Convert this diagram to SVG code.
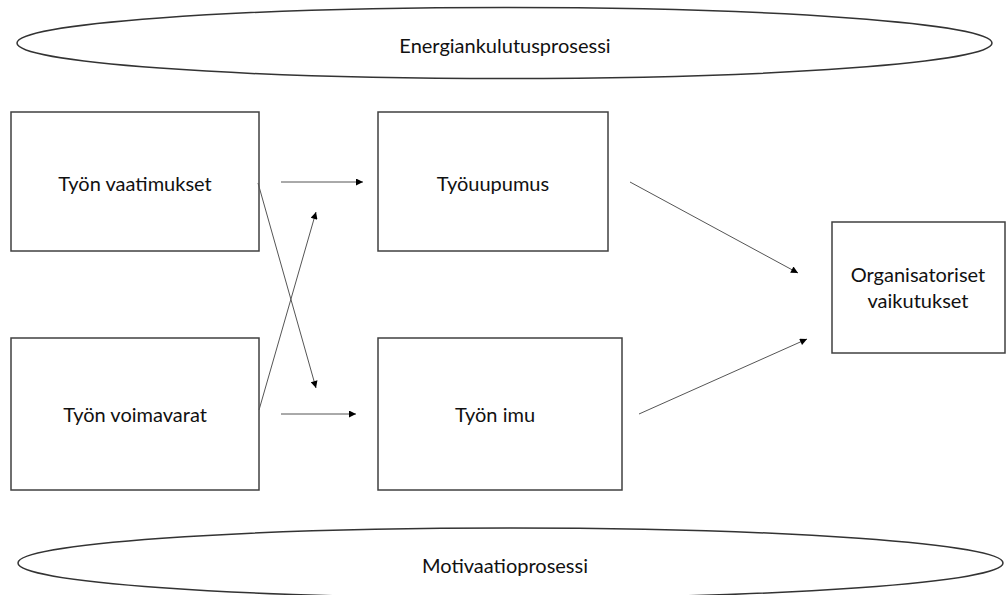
<svg xmlns="http://www.w3.org/2000/svg" width="1008" height="595" viewBox="0 0 1008 595">
<style>
.box{fill:#fff;stroke:#404040;stroke-width:1.5}
.ell{fill:#fff;stroke:#333;stroke-width:1.5}
.lbl{font-family:Lato,"Liberation Sans",sans-serif;font-size:20px;fill:#111;text-anchor:middle;dominant-baseline:central}
.con{stroke:#555;stroke-width:1;fill:none;marker-end:url(#ah)}
</style>
<defs>
<marker id="ah" viewBox="0 0 10 10" refX="10" refY="5" markerWidth="9" markerHeight="7" markerUnits="userSpaceOnUse" orient="auto">
<path d="M0,0 L10,5 L0,10 z" fill="#000"/>
</marker>
</defs>
<rect width="1008" height="595" fill="#fff"/>
<g id="energia">
<ellipse class="ell" cx="504.5" cy="43" rx="487.5" ry="35.5"/>
<text class="lbl" x="505" y="45">Energiankulutusprosessi</text>
</g>
<g id="motivaatio">
<ellipse class="ell" cx="510.5" cy="563" rx="492.5" ry="35"/>
<text class="lbl" x="505" y="565">Motivaatioprosessi</text>
</g>
<g id="vaatimukset">
<rect class="box" x="11" y="112" width="248" height="139"/>
<text class="lbl" x="135" y="183">Työn vaatimukset</text>
</g>
<g id="voimavarat">
<rect class="box" x="11" y="338" width="248" height="152"/>
<text class="lbl" x="135" y="414">Työn voimavarat</text>
</g>
<g id="tyouupumus">
<rect class="box" x="378" y="112" width="230" height="139"/>
<text class="lbl" x="493" y="183">Työuupumus</text>
</g>
<g id="imu">
<rect class="box" x="378" y="338" width="244" height="152"/>
<text class="lbl" x="495" y="414">Työn imu</text>
</g>
<g id="organisatoriset">
<rect class="box" x="832" y="222" width="173" height="131"/>
<text class="lbl" x="918" y="274">Organisatoriset</text>
<text class="lbl" x="918" y="300">vaikutukset</text>
</g>
<g id="connectors">
<line class="con" x1="281" y1="182" x2="363" y2="182"/>
<line class="con" x1="258" y1="183" x2="316" y2="388"/>
<line class="con" x1="259" y1="410" x2="316" y2="212"/>
<line class="con" x1="281" y1="414" x2="356" y2="414"/>
<line class="con" x1="630" y1="182" x2="798" y2="273"/>
<line class="con" x1="639" y1="414" x2="807" y2="339"/>
</g>
</svg>
